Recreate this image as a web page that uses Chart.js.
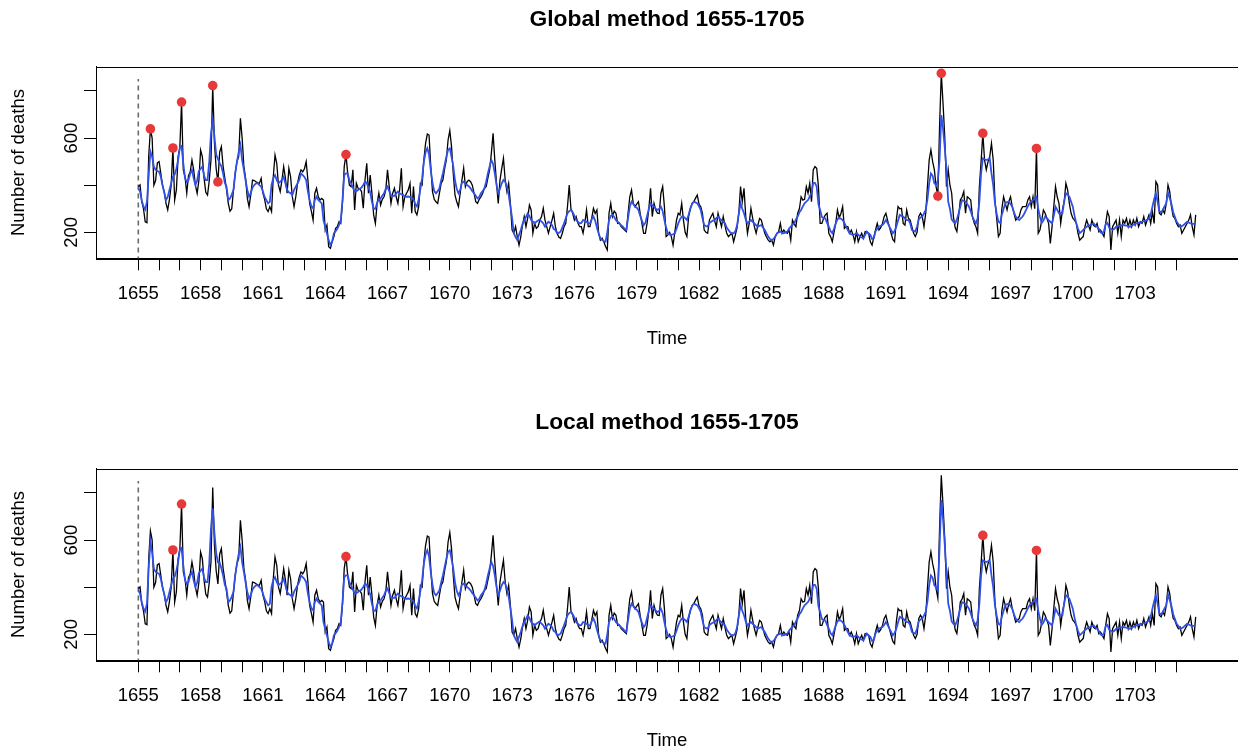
<!DOCTYPE html>
<html>
<head>
<meta charset="utf-8">
<script src="https://cdn.jsdelivr.net/npm/chart.js@4.4.0/dist/chart.umd.min.js"></script>
<style>
  html, body { margin: 0; padding: 0; background: #fff; }
  #wrap { position: relative; width: 1238px; height: 751px; overflow: hidden; }
  canvas { position: absolute; left: 0; }
</style>
</head>
<body>
<div id="wrap">
  <canvas id="globalChart" width="1238" height="402" style="top:0"></canvas>
  <canvas id="localChart" width="1238" height="349" style="top:402px"></canvas>
</div>
<script>
// monthly series, Jan 1655 .. Dec 1705 (one row per year)
const startYear = 1655;
const monthsPerYear = 12;

const deaths = [
  394,401,330,300,245,241,520,639,600,400,420,495,
  500,450,400,370,323,295,340,400,558,337,380,520,
  560,753,465,436,366,440,457,507,465,400,365,420,
  549,521,430,370,358,420,507,823,578,470,414,540,
  564,480,430,380,323,290,300,380,450,500,521,684,
  600,480,430,344,309,360,422,420,415,410,408,429,
  366,340,300,288,309,288,436,528,493,400,373,422,
  479,430,366,472,436,351,309,351,408,443,465,457,
  470,500,422,323,290,252,366,387,351,337,344,337,
  210,231,139,132,160,181,217,224,245,238,330,480,
  530,450,400,394,465,295,408,387,385,373,302,422,
  493,366,443,366,274,238,323,366,316,340,351,380,
  465,394,323,366,387,351,323,380,472,309,351,366,
  380,408,281,394,288,274,309,408,401,507,578,617,
  613,479,373,340,330,323,366,408,422,470,507,592,
  632,564,450,358,330,309,366,422,472,394,415,422,
  415,400,366,330,323,340,351,366,387,394,430,465,
  535,620,507,408,323,422,470,514,422,373,408,323,
  210,196,224,181,146,181,230,267,224,260,316,295,
  196,238,217,224,250,267,302,252,224,196,224,250,
  281,224,196,180,174,196,224,238,309,401,300,281,
  252,267,240,224,224,196,238,295,224,224,260,302,
  280,295,196,167,175,160,140,125,281,323,267,290,
  281,238,240,224,217,210,203,281,351,380,323,309,
  320,330,281,238,196,196,238,300,387,267,323,295,
  281,280,366,394,309,182,189,200,182,146,200,252,
  281,274,323,252,200,182,267,300,323,330,345,358,
  320,309,281,210,200,196,252,267,281,250,224,281,
  252,224,267,230,196,182,190,196,160,189,220,281,
  394,330,387,267,196,238,302,260,224,196,230,259,
  252,224,196,180,167,160,167,146,182,195,203,238,
  196,210,200,196,210,167,252,235,224,281,300,351,
  337,340,394,366,408,330,465,479,472,394,238,238,
  260,274,281,196,182,160,200,238,295,262,280,309,
  217,224,224,196,210,190,160,203,160,180,196,175,
  203,200,196,160,146,180,210,238,210,220,238,267,
  281,250,224,196,170,160,252,309,300,302,238,231,
  295,260,252,224,196,182,200,267,281,267,224,281,
  394,507,550,500,465,394,354,649,875,748,606,394,
  465,400,366,267,220,203,267,337,350,373,281,351,
  345,337,267,240,224,196,394,500,620,507,465,500,
  521,578,507,337,260,182,196,300,351,323,295,330,
  351,309,281,252,260,267,295,309,309,309,337,351,
  309,351,300,556,196,210,250,295,281,260,238,153,
  224,309,394,350,323,238,295,330,408,380,323,281,
  260,252,238,196,167,175,182,224,252,230,210,252,
  230,224,238,203,210,196,182,238,288,267,125,224,
  238,252,196,252,182,252,238,259,224,252,224,252,
  231,259,224,245,238,267,231,252,274,238,288,238,
  415,401,281,274,295,281,323,401,373,309,267,259,
  238,224,231,196,210,224,238,252,274,224,189,274
];

// fitted values, global method
const globalFit = [
  387,373,335,310,297,330,440,543,520,479,465,460,
  457,436,400,370,337,350,380,408,436,445,470,507,
  560,566,493,430,415,422,450,465,429,401,420,460,
  470,479,440,422,422,500,620,676,606,530,512,493,
  480,450,410,394,337,344,360,380,450,500,540,571,
  507,465,420,380,351,366,390,401,408,408,400,394,
  373,350,337,323,330,401,430,443,422,408,415,422,
  436,408,380,370,366,358,380,394,408,422,450,443,
  435,422,373,337,310,302,337,351,337,330,323,252,
  224,195,167,146,160,196,205,215,231,252,337,443,
  450,450,420,408,390,373,375,380,385,390,401,415,
  410,390,370,330,300,300,325,340,344,355,366,385,
  394,375,358,355,355,365,373,366,362,358,352,351,
  352,350,347,340,320,310,340,385,430,500,540,557,
  530,465,410,375,366,375,387,420,450,485,521,550,
  557,520,480,420,385,366,380,410,415,405,401,395,
  387,375,366,355,344,350,366,375,387,415,450,480,
  507,490,450,400,366,385,408,422,415,394,360,310,
  260,196,180,167,190,210,235,252,265,281,270,252,
  245,238,245,250,255,245,238,224,235,245,240,231,
  215,210,196,198,203,220,238,260,281,290,295,285,
  270,252,245,238,240,252,250,245,238,238,255,267,
  250,220,195,175,167,163,160,200,252,270,274,265,
  252,245,238,230,224,215,210,260,309,330,320,309,
  305,295,270,250,230,240,270,300,323,315,309,300,
  295,300,309,290,252,220,196,190,189,192,196,215,
  238,255,267,267,260,252,275,302,320,330,327,323,
  310,295,260,231,226,224,240,245,250,252,260,267,
  258,252,245,238,220,210,200,196,196,205,230,280,
  323,300,281,255,238,245,252,245,238,230,224,228,
  231,220,210,195,182,172,167,172,180,196,200,203,
  198,196,200,203,215,224,232,238,255,267,285,295,
  310,323,330,337,352,366,410,410,394,320,295,265,
  259,259,240,224,205,196,215,238,255,262,258,252,
  240,224,210,196,192,189,192,196,190,182,178,174,
  190,203,195,189,172,175,205,215,224,228,231,240,
  252,240,224,210,196,205,224,250,274,270,267,258,
  252,252,240,210,206,203,225,255,263,267,280,295,
  340,408,450,440,408,401,420,507,698,640,560,465,
  330,300,255,245,238,255,281,310,337,333,330,320,
  309,290,267,250,238,260,330,450,514,510,507,510,
  514,450,400,323,280,245,240,275,300,323,328,330,
  320,309,285,267,258,252,260,267,280,295,310,323,
  330,337,345,351,300,267,240,250,267,260,252,245,
  238,270,309,295,281,281,281,330,366,360,351,330,
  309,270,238,215,196,203,210,218,224,230,231,235,
  238,230,224,215,200,195,205,235,240,220,215,210,
  215,224,226,228,230,231,230,228,226,224,228,232,
  236,238,240,242,245,247,250,253,259,275,309,340,
  366,330,290,285,295,310,323,370,345,320,285,265,
  245,235,224,226,231,238,245,242,238,236,236,238
];

// months where the local fit departs from the global one: [month index, value]
const localFitChanges = [
  [6, 480], [7, 593], [8, 545],
  [42, 650], [43, 735], [44, 630], [45, 545], [46, 505], [47, 505],
  [462, 385], [463, 570], [464, 770], [465, 690], [466, 580]
];

// flagged months (index into deaths)
const globalOutliers = [7, 20, 25, 43, 46, 120, 462, 464, 488, 519];
const localOutliers = [20, 25, 120, 488, 519];

const yearTicks = [
  1655,1656,1657,1658,1659,1660,1661,1662,1663,1664,1665,1666,1667,1668,1669,1670,1671,
  1672,1673,1674,1675,1676,1677,1678,1679,1680,1681,1682,1683,1684,1685,1686,1687,1688,
  1689,1690,1691,1692,1693,1694,1695,1696,1697,1698,1699,1700,1701,1702,1703,1704,1705
];
const labelledYears = [1655,1658,1661,1664,1667,1670,1673,1676,1679,1682,1685,1688,1691,1694,1697,1700,1703];
const deathTicks = [200, 400, 600, 800];
const labelledDeaths = [200, 600];
const startLine = [0, 851]; // dashed marker at the start of the series

const localFit = globalFit.slice();
localFitChanges.forEach(([i, v]) => { localFit[i] = v; });

const FONT = '"Liberation Sans", Arial, Helvetica, sans-serif';

function monthX(i) {
  return startYear + i / monthsPerYear;
}

function toPoints(series) {
  return series.map((v, i) => ({ x: monthX(i), y: v }));
}

// R-like frame: box, titles, rotated y labels
const rFrame = {
  id: 'rFrame',
  afterDraw(chart, args, opts) {
    const { ctx, chartArea: a, scales } = chart;
    const cx = (a.left + a.right) / 2;
    const cy = (a.top + a.bottom) / 2;
    ctx.save();
    ctx.strokeStyle = '#000';
    ctx.lineWidth = 1;
    ctx.strokeRect(Math.round(a.left) + 0.5, Math.round(a.top) + 0.5,
      Math.round(a.right - a.left) + 2, Math.round(a.bottom - a.top));

    ctx.fillStyle = '#000';
    ctx.textAlign = 'center';
    ctx.textBaseline = 'alphabetic';
    ctx.font = 'bold 22.8px ' + FONT;
    ctx.fillText(opts.title, cx, opts.titleBase);

    ctx.font = '18.5px ' + FONT;
    ctx.fillText('Time', cx, a.bottom + 86);

    ctx.save();
    ctx.translate(24, cy);
    ctx.rotate(-Math.PI / 2);
    ctx.fillText('Number of deaths', 0, 0);
    ctx.restore();

    labelledDeaths.forEach(v => {
      const py = scales.y.getPixelForValue(v);
      ctx.save();
      ctx.translate(77, py);
      ctx.rotate(-Math.PI / 2);
      ctx.fillText(String(v), 0, 0);
      ctx.restore();
    });
    ctx.restore();
  }
};

function makeChart(id, title, titleBase, fit, outliers) {
  const canvas = document.getElementById(id);
  const bottomPad = canvas.height - 258.3 - 50;
  return new Chart(canvas, {
    type: 'line',
    data: {
      datasets: [
        {
          label: 'outliers',
          data: outliers.map(i => ({ x: monthX(i), y: deaths[i] })),
          showLine: false,
          pointRadius: 4.8,
          pointBorderWidth: 0,
          pointBackgroundColor: '#e8393a',
          order: 0
        },
        {
          label: 'fit',
          data: toPoints(fit),
          borderColor: '#3050e8',
          borderWidth: 1.8,
          pointRadius: 0,
          tension: 0,
          order: 1
        },
        {
          label: 'deaths',
          data: toPoints(deaths),
          borderColor: '#000',
          borderWidth: 1.3,
          pointRadius: 0,
          tension: 0,
          order: 2
        },
        {
          label: 'start',
          data: startLine.map(v => ({ x: startYear, y: v })),
          borderColor: '#6b6b6b',
          borderWidth: 1.6,
          borderDash: [5, 4],
          pointRadius: 0,
          order: 3
        }
      ]
    },
    options: {
      responsive: false,
      animation: false,
      devicePixelRatio: 1,
      events: [],
      layout: { autoPadding: false, padding: { top: 66.7, left: 0, right: 0, bottom: bottomPad } },
      plugins: {
        legend: { display: false },
        tooltip: { enabled: false },
        rFrame: { title: title, titleBase: titleBase }
      },
      scales: {
        x: {
          type: 'linear',
          min: 1652.963,
          max: 1707.954,
          afterBuildTicks: s => { s.ticks = yearTicks.map(v => ({ value: v })); },
          afterFit: s => { s.height = 50; },
          ticks: {
            autoSkip: false,
            maxRotation: 0,
            minRotation: 0,
            padding: 13,
            color: '#000',
            font: { family: FONT, size: 18.5 },
            callback: v => labelledYears.includes(v) ? String(v) : ''
          },
          grid: { drawOnChartArea: false, drawTicks: true, tickLength: 12, color: '#000', lineWidth: 1 },
          border: { color: '#000', width: 1 }
        },
        y: {
          type: 'linear',
          min: 89.8,
          max: 903,
          afterBuildTicks: s => { s.ticks = deathTicks.map(v => ({ value: v })); },
          afterFit: s => { s.width = 96; },
          ticks: { display: false },
          grid: { drawOnChartArea: false, drawTicks: true, tickLength: 12, color: '#000', lineWidth: 1 },
          border: { color: '#000', width: 1 }
        }
      }
    },
    plugins: [rFrame]
  });
}

makeChart('globalChart', 'Global method 1655-1705', 25.5, globalFit, globalOutliers);
makeChart('localChart', 'Local method 1655-1705', 26.5, localFit, localOutliers);
</script>
</body>
</html>
